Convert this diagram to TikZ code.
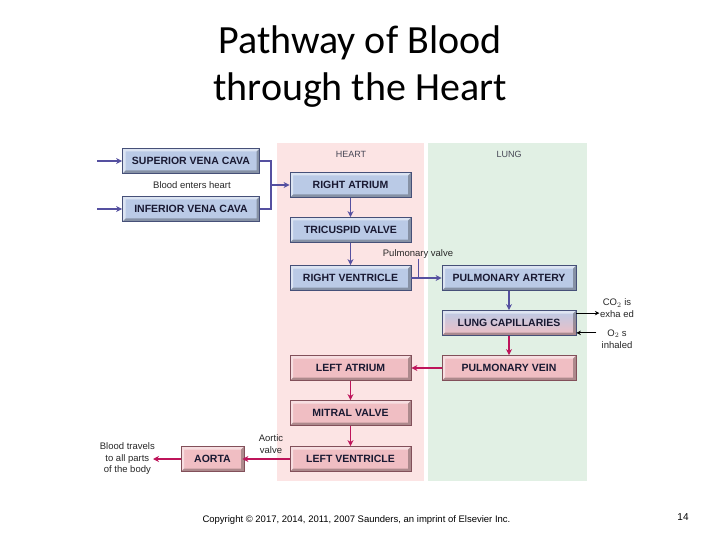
\documentclass[tikz,border=0pt]{standalone}
\usepackage{fontspec}
\setmainfont{Liberation Sans}
\newfontfamily\titlefont{Carlito}
\usetikzlibrary{arrows.meta}
\definecolor{heartbg}{RGB}{252,228,228}
\definecolor{lungbg}{RGB}{225,240,228}
\definecolor{boxblue}{RGB}{186,202,230}
\definecolor{boxbluedark}{RGB}{70,80,120}
\definecolor{boxpink}{RGB}{240,190,195}
\definecolor{boxpinkdark}{RGB}{130,80,90}
\definecolor{arrowblue}{RGB}{85,80,160}
\definecolor{arrowpink}{RGB}{190,20,90}
\definecolor{boxtext}{RGB}{25,25,50}
\definecolor{smalltext}{RGB}{40,40,40}
\tikzset{
  bevel/.style={path picture={
    \coordinate (bNW) at (path picture bounding box.north west);
    \coordinate (bSE) at (path picture bounding box.south east);
    \fill[white,opacity=0.5] (bNW) -- (bNW -| bSE) -- ([shift={(-3pt,-3pt)}]bNW -| bSE) -- ([shift={(3pt,-3pt)}]bNW) -- ([shift={(3pt,3pt)}]bNW |- bSE) -- (bNW |- bSE) -- cycle;
    \fill[black,opacity=0.28] (bSE) -- (bNW |- bSE) -- ([shift={(3pt,3pt)}]bNW |- bSE) -- ([shift={(-3pt,3pt)}]bSE) -- ([shift={(-3pt,-3pt)}]bNW -| bSE) -- (bNW -| bSE) -- cycle;
  }},
  boxbase/.style={bevel, inner sep=0pt, minimum height=25pt, text=boxtext,
    font=\fontsize{10.5}{12}\selectfont\bfseries},
  bluebox/.style={boxbase, fill=boxblue, draw=boxbluedark, line width=0.8pt},
  pinkbox/.style={boxbase, fill=boxpink, draw=boxpinkdark, line width=0.8pt},
  mixbox/.style={boxbase, top color=boxblue, bottom color=boxpink, draw=boxbluedark, line width=0.8pt},
  small/.style={font=\fontsize{9.5}{11.5}\selectfont, text=smalltext, align=center, inner sep=0pt},
  barrow/.style={draw=arrowblue, line width=1.3pt, -{Stealth[length=6pt,width=6pt]}},
  bline/.style={draw=arrowblue, line width=1.3pt},
  parrow/.style={draw=arrowpink, line width=1.3pt, -{Stealth[length=6pt,width=6pt]}},
  karrow/.style={draw=black, line width=0.9pt, -{Stealth[length=4.5pt,width=4.5pt]}},
}
\begin{document}
\begin{tikzpicture}[x=1pt,y=-1pt]
\useasboundingbox (0,0) rectangle (720,540);
\fill[white] (0,0) rectangle (720,540);
% title
\node[font=\titlefont\fontsize{40}{48}\selectfont] (t1) at (360,43) {Pathway of Blood};
\node[font=\titlefont\fontsize{40}{48}\selectfont] (t2) at (360,90) {through the Heart};
% panels
\fill[heartbg] (277,143) rectangle (424,481);
\fill[lungbg] (428,143) rectangle (587,481);
\node[font=\fontsize{9}{11}\selectfont, text={rgb,255:red,70;green,70;blue,85}] (hl) at (351,154) {HEART};
\node[font=\fontsize{9}{11}\selectfont, text={rgb,255:red,70;green,70;blue,85}] (ll) at (509,154) {LUNG};
% boxes
\node[bluebox, minimum width=137pt] (svc) at (191,161) {SUPERIOR VENA CAVA};
\node[bluebox, minimum width=137pt] (ivc) at (191,209) {INFERIOR VENA CAVA};
\node[small] (enter) at (192,185) {Blood enters heart};
\node[bluebox, minimum width=121pt] (ra) at (350.5,185) {RIGHT ATRIUM};
\node[bluebox, minimum width=121pt] (tv) at (350.5,230) {TRICUSPID VALVE};
\node[bluebox, minimum width=121pt] (rv) at (350.5,278) {RIGHT VENTRICLE};
\node[bluebox, minimum width=134pt] (pa) at (509,278) {PULMONARY ARTERY};
\node[mixbox, minimum width=134pt] (lc) at (509,323) {LUNG CAPILLARIES};
\node[pinkbox, minimum width=134pt] (pv) at (509,368) {PULMONARY VEIN};
\node[pinkbox, minimum width=121pt] (la) at (350.5,368) {LEFT ATRIUM};
\node[pinkbox, minimum width=121pt] (mv) at (350.5,413) {MITRAL VALVE};
\node[pinkbox, minimum width=121pt] (lv) at (350.5,459) {LEFT VENTRICLE};
\node[pinkbox, minimum width=63pt] (ao) at (212.5,459) {AORTA};
% labels
\node[small] (pvl) at (418,254) {Pulmonary valve};
\node[small] (avl) at (271,444) {Aortic\\valve};
\node[small, anchor=east] (body) at (155,459) {Blood travels\\to all parts\\of the body};
\node[small] (co2) at (617,308) {CO$_2$ is\\exha ed};
\node[small] (o2) at (617,339) {O$_2$ s\\inhaled};
% connectors
\coordinate (in1) at (97,161);
\coordinate (in2) at (97,209);
\draw[barrow] (in1) -- (svc.west);
\draw[barrow] (in2) -- (ivc.west);
\draw[bline] (svc.east) -- ++(11,0) |- (ivc.east);
\coordinate (junc) at (270,185);
\draw[barrow] (junc) -- (ra.west);
\draw[barrow] (ra.south) -- (tv.north);
\draw[barrow] (tv.south) -- (rv.north);
\draw[barrow] (rv.east) -- (pa.west);
\draw[bline, line width=1pt] (pvl.south) -- (pvl.south |- rv.east);
\draw[barrow] (pa.south) -- (lc.north);
\draw[parrow] (lc.south) -- (pv.north);
\draw[parrow] (pv.west) -- (la.east);
\draw[parrow] (la.south) -- (mv.north);
\draw[parrow] (mv.south) -- (lv.north);
\draw[parrow] (lv.west) -- ([xshift=-2pt]ao.east);
\draw[parrow] (ao.west) -- ([xshift=-2pt]body.east);
\draw[karrow] ([yshift=-3pt]lc.north east) -- ++(23,0);
\draw[karrow] ([yshift=3pt]lc.south east) ++(20,0) -- ([yshift=3pt]lc.south east);
% footer
\node[font=\fontsize{9.5}{11}\selectfont, anchor=west] (copy) at (199,520) {Copyright \textcopyright{} 2017, 2014, 2011, 2007 Saunders, an imprint of Elsevier Inc.};
\node[font=\fontsize{10}{12}\selectfont] (pg) at (683,517) {14};
\end{tikzpicture}
\end{document}
